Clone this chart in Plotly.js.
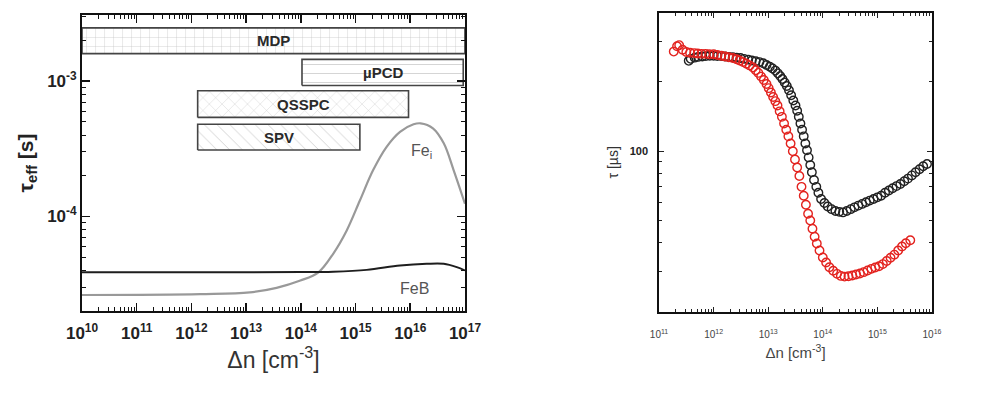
<!DOCTYPE html>
<html>
<head>
<meta charset="utf-8">
<script src="https://cdn.plot.ly/plotly-3.0.1.min.js"></script>
<style>
  body { margin: 0; background: #fff; }
  #chart { width: 1004px; height: 403px; }
</style>
</head>
<body>
<div id="chart"></div>
<script>
// left panel: simulated tau_eff for Fe_i and FeB, plus measurement ranges
const feiN   = [1e10, 1.45e12, 1.17e13, 3.6e13, 9.8e13, 2.1e14, 3.9e14, 6.9e14, 1.2e15, 2.1e15, 3.7e15, 6.5e15, 1.15e16, 1.55e16, 2.6e16, 4.1e16, 6.2e16, 1e17];
const feiTau = [2.62e-5, 2.66e-5, 2.74e-5, 2.96e-5, 3.35e-5, 3.86e-5, 5.29e-5, 7.87e-5, 1.31e-4, 2.2e-4, 3.27e-4, 4.22e-4, 4.8e-4, 4.88e-4, 4.48e-4, 3.47e-4, 2.2e-4, 1.24e-4];

const febN   = [1e10, 1e12, 1e14, 3.9e14, 1.6e15, 6.5e15, 2e16, 4.1e16, 7.1e16, 1e17];
const febTau = [3.86e-5, 3.86e-5, 3.87e-5, 3.9e-5, 4.02e-5, 4.33e-5, 4.46e-5, 4.46e-5, 4.21e-5, 3.98e-5];

const boxNames = ['MDP', 'µPCD', 'QSSPC', 'SPV'];
const boxNmin  = [1e10, 1.05e14, 1.3e12, 1.3e12];
const boxNmax  = [1e17, 9.3e16, 9.3e15, 1.2e15];
const boxTmin  = [1.6e-3, 9.3e-4, 5.4e-4, 3.1e-4];
const boxTmax  = [2.48e-3, 1.45e-3, 8.5e-4, 4.8e-4];
const boxHatch = ['+', '-', 'x', '\\'];

const leftTickVals = [1e10, 1e11, 1e12, 1e13, 1e14, 1e15, 1e16, 1e17];
const leftTickText = ['10<sup>10</sup>', '10<sup>11</sup>', '10<sup>12</sup>', '10<sup>13</sup>', '10<sup>14</sup>', '10<sup>15</sup>', '10<sup>16</sup>', '10<sup>17</sup>'];

// right panel: measured lifetime curves (open circles)
const blackN = [3.5e11, 3.8e11, 4.5e11, 5.2e11, 6.2e11, 7.2e11, 8.5e11, 1.0e12, 1.17e12, 1.38e12, 1.62e12, 1.9e12, 2.24e12, 2.63e12, 3.1e12, 3.6e12, 4.3e12, 5.0e12, 5.9e12, 6.9e12, 8.1e12, 9.3e12, 1.07e13, 1.2e13, 1.35e13, 1.5e13, 1.66e13, 1.82e13, 2.0e13, 2.19e13, 2.4e13, 2.63e13, 2.88e13, 3.16e13, 3.39e13, 3.63e13, 3.89e13, 4.17e13, 4.47e13, 4.79e13, 5.13e13, 5.5e13, 5.89e13, 6.3e13, 6.9e13, 7.6e13, 8.3e13, 9.3e13, 1.07e14, 1.23e14, 1.45e14, 1.7e14, 2.0e14, 2.34e14, 2.75e14, 3.24e14, 3.8e14, 4.47e14, 5.25e14, 6.17e14, 7.24e14, 8.5e14, 1.0e15, 1.17e15, 1.38e15, 1.62e15, 1.9e15, 2.24e15, 2.63e15, 3.1e15, 3.63e15, 4.27e15, 5.0e15, 5.9e15, 6.9e15, 8.1e15];
const blackTau = [247, 252, 255, 257, 258, 259, 260, 260, 259, 259, 258, 257, 256, 255, 254, 252, 250, 248, 246, 244, 241, 237, 233, 229, 224, 218, 212, 206, 199, 192, 184, 175, 166, 158, 150, 141, 132, 124, 116, 108, 101, 94, 87, 81, 75, 70, 66, 62, 59.5, 57.5, 56, 55, 54.5, 54.2, 55, 56, 57, 58, 59, 60, 61, 62, 63, 64, 66, 67.5, 69, 70.5, 72, 74, 76, 78.5, 81, 83.5, 86, 88];

const redN = [1.86e11, 2.14e11, 2.34e11, 2.7e11, 3.16e11, 3.7e11, 4.4e11, 5.1e11, 6.0e11, 7.1e11, 8.3e11, 1.0e12, 1.17e12, 1.38e12, 1.62e12, 1.9e12, 2.24e12, 2.63e12, 3.0e12, 3.47e12, 4.0e12, 4.57e12, 5.25e12, 5.9e12, 6.6e12, 7.4e12, 8.3e12, 9.3e12, 1.02e13, 1.12e13, 1.23e13, 1.35e13, 1.48e13, 1.62e13, 1.78e13, 1.95e13, 2.14e13, 2.34e13, 2.57e13, 2.82e13, 3.09e13, 3.39e13, 3.72e13, 4.07e13, 4.47e13, 4.9e13, 5.37e13, 5.89e13, 6.46e13, 7.08e13, 7.76e13, 8.7e13, 1.0e14, 1.15e14, 1.32e14, 1.55e14, 1.82e14, 2.14e14, 2.5e14, 2.95e14, 3.47e14, 4.07e14, 4.79e14, 5.6e14, 6.6e14, 7.76e14, 9.1e14, 1.07e15, 1.26e15, 1.48e15, 1.74e15, 2.04e15, 2.4e15, 2.82e15, 3.31e15, 4.0e15];
const redTau = [271, 286, 289, 276, 270, 268, 267, 266, 265, 265, 264, 264, 262, 260, 258, 256, 254, 251, 248, 244, 240, 236, 231, 225, 219, 211, 204, 196, 188, 180, 172, 165, 158, 149, 141, 132, 124, 116, 108, 100, 92, 85, 78, 70, 64, 58.5, 53.5, 50, 46, 42.5, 39.7, 37, 34.5, 32.8, 31.3, 30.2, 29.3, 28.7, 28.5, 28.6, 28.8, 29.1, 29.4, 29.8, 30.3, 30.8, 31.2, 31.6, 32.3, 33.3, 34.4, 35.5, 37, 38.5, 39.8, 41];

const rightTickVals = [1e11, 1e12, 1e13, 1e14, 1e15, 1e16];
const rightTickText = ['10<sup>11</sup>', '10<sup>12</sup>', '10<sup>13</sup>', '10<sup>14</sup>', '10<sup>15</sup>', '10<sup>16</sup>'];
const rightYMinor = [20, 30, 40, 50, 60, 70, 80, 90, 200, 300, 400];

const FONT = 'Liberation Sans, Arial, sans-serif';
const traces = [];
const annotations = [];

boxNames.forEach((name, i) => {
    traces.push({
        x: [boxNmin[i], boxNmax[i], boxNmax[i], boxNmin[i], boxNmin[i]],
        y: [boxTmin[i], boxTmin[i], boxTmax[i], boxTmax[i], boxTmin[i]],
        xaxis: 'x', yaxis: 'y',
        mode: 'lines', fill: 'toself', fillcolor: '#ffffff',
        fillpattern: { shape: boxHatch[i], fgcolor: '#c4c4c4', bgcolor: '#ffffff', size: 9, solidity: 0.08 },
        line: { color: '#444', width: 1.6 },
        hoverinfo: 'skip', showlegend: false
    });
    annotations.push({
        xref: 'x', yref: 'y', showarrow: false,
        x: (Math.log10(boxNmin[i]) + Math.log10(boxNmax[i])) / 2,
        y: (Math.log10(boxTmin[i]) + Math.log10(boxTmax[i])) / 2,
        text: '<b>' + name + '</b>',
        font: { family: FONT, size: 15, color: '#2a2a2a' }
    });
});

traces.push({
    x: feiN, y: feiTau, xaxis: 'x', yaxis: 'y', mode: 'lines',
    line: { color: '#999', width: 2.2, shape: 'spline' }, showlegend: false
});
traces.push({
    x: febN, y: febTau, xaxis: 'x', yaxis: 'y', mode: 'lines',
    line: { color: '#1e1e1e', width: 2, shape: 'spline' }, showlegend: false
});

annotations.push({ xref: 'x', yref: 'y', x: 16.2, y: -3.52, showarrow: false,
    text: 'Fe<sub>i</sub>', font: { family: FONT, size: 16, color: '#555' } });
annotations.push({ xref: 'x', yref: 'y', x: 16.08, y: -4.53, showarrow: false,
    text: 'FeB', font: { family: FONT, size: 16, color: '#555' } });

const circle = color => ({ symbol: 'circle-open', size: 8.5, color: color, line: { width: 1.4, color: color } });
traces.push({ x: blackN, y: blackTau, xaxis: 'x2', yaxis: 'y2', mode: 'markers',
    marker: circle('#222'), showlegend: false });
traces.push({ x: redN, y: redTau, xaxis: 'x2', yaxis: 'y2', mode: 'markers',
    marker: circle('#e3231f'), showlegend: false });

const frame = w => ({ showline: true, linecolor: '#111', linewidth: w, mirror: 'ticks', showgrid: false, zeroline: false });

const layout = {
    width: 1004, height: 403,
    margin: { l: 0, r: 0, t: 0, b: 0 },
    paper_bgcolor: '#fff', plot_bgcolor: '#fff',
    showlegend: false,
    xaxis: {
        ...frame(2), type: 'log', range: [10, 17], domain: [0.0817, 0.4631], anchor: 'y',
        tickvals: leftTickVals, ticktext: leftTickText,
        ticks: 'inside', ticklen: 8, tickwidth: 1.5, tickcolor: '#111', ticklabelstandoff: 6,
        minor: { ticks: 'inside', ticklen: 4, tickwidth: 1, tickcolor: '#111', dtick: 'D1' },
        tickfont: { family: FONT, size: 17, color: '#222', weight: 'bold' },
        title: { text: 'Δn [cm<sup>-3</sup>]', font: { family: FONT, size: 23, color: '#333' }, standoff: 4 }
    },
    yaxis: {
        ...frame(2), type: 'log', range: [-4.70, -2.51], domain: [0.2283, 0.9628], anchor: 'x',
        tickvals: [1e-4, 1e-3], ticktext: ['10<sup>-4</sup>', '10<sup>-3</sup>'],
        ticks: 'inside', ticklen: 8, tickwidth: 1.5, tickcolor: '#111',
        minor: { ticks: 'inside', ticklen: 4, tickwidth: 1, tickcolor: '#111', dtick: 'D1' },
        tickfont: { family: FONT, size: 17, color: '#222', weight: 'bold' },
        title: { text: '<b>τ<sub>eff</sub> [s]</b>', font: { family: FONT, size: 21, color: '#222' }, standoff: 8 }
    },
    xaxis2: {
        ...frame(1.8), type: 'log', range: [11, 16], domain: [0.6564, 0.9283], anchor: 'y2',
        tickvals: rightTickVals, ticktext: rightTickText,
        ticks: 'inside', ticklen: 5, tickwidth: 1, tickcolor: '#222', ticklabelstandoff: 12,
        minor: { ticks: 'inside', ticklen: 3, tickwidth: 1, tickcolor: '#222', dtick: 'D1' },
        tickfont: { family: FONT, size: 10, color: '#444' },
        title: { text: 'Δn [cm<sup>-3</sup>]', font: { family: FONT, size: 15, color: '#444' }, standoff: 9 }
    },
    yaxis2: {
        ...frame(1.8), type: 'log', range: [Math.log10(20), Math.log10(400)], domain: [0.2258, 0.9685], anchor: 'x2',
        tickvals: [100], ticktext: ['100'],
        ticks: 'inside', ticklen: 5, tickwidth: 1, tickcolor: '#222', ticklabelstandoff: 7,
        minor: { ticks: 'inside', ticklen: 3, tickwidth: 1, tickcolor: '#222', tickmode: 'array', tickvals: rightYMinor },
        tickfont: { family: FONT, size: 11, color: '#222', weight: 'bold' },
        title: { text: 'τ [µs]', font: { family: FONT, size: 14, color: '#333' }, standoff: 8 }
    },
    annotations: annotations
};

Plotly.newPlot('chart', traces, layout, { staticPlot: true });
</script>
</body>
</html>
